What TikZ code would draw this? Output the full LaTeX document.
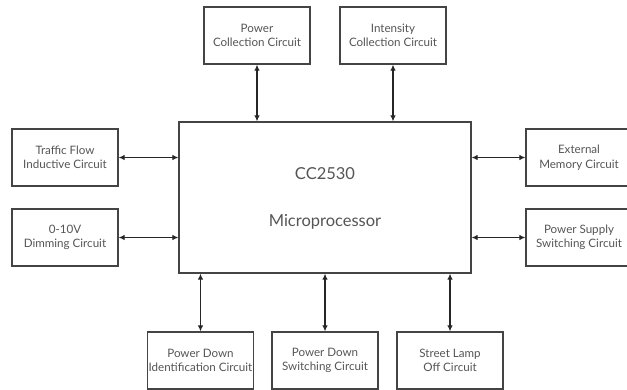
\documentclass[tikz,border=0pt]{standalone}
\usepackage{fontspec}
\setmainfont{Lato}
\usetikzlibrary{arrows.meta}
\definecolor{boxstroke}{HTML}{444444}
\definecolor{txtgray}{HTML}{555555}

\begin{document}
\begin{tikzpicture}[
    x=1pt, y=-1pt,
    every node/.style={font=\fontsize{11.6}{14.5}\selectfont, text=txtgray},
    blk/.style={draw=boxstroke, line width=1.2pt, fill=white, minimum width=106pt, minimum height=57pt, inner sep=0pt, align=center},
    mcu/.style={draw=boxstroke, line width=1.2pt, minimum width=292pt, minimum height=151pt, inner sep=0pt, align=center},
    arr/.style={{Latex[length=6pt,width=5.5pt]}-{Latex[length=6pt,width=5.5pt]}, line width=1.1pt, black!85}
]
\useasboundingbox (0,0) rectangle (627,389);

\node[mcu] (cpu) at (325,197.5) {};
\node[font=\fontsize{16.5}{19}\selectfont] (chip) at (325,174) {CC2530};
\node[font=\fontsize{16.5}{19}\selectfont] (proc) at (325,222) {Microprocessor};

% top row
\node[blk] (pwr) at (257,35.5) {Power\\Collection Circuit};
\node[blk] (ints) at (393,35.5) {Intensity\\Collection Circuit};

% left side
\node[blk] (traf) at (65,157.5) {Traffic Flow\\Inductive Circuit};
\node[blk] (dim) at (65,237.5) {0-10V\\Dimming Circuit};

% right side
\node[blk] (ext) at (579,157.5) {External\\Memory Circuit};
\node[blk] (psw) at (579,237.5) {Power Supply\\Switching Circuit};

% bottom row
\node[blk] (pdi) at (200.5,360.5) {Power Down\\Identification Circuit};
\node[blk] (pds) at (325,360.5) {Power Down\\Switching Circuit};
\node[blk] (lamp) at (450,360.5) {Street Lamp\\Off Circuit};

\draw[arr] (pwr.south) -- (pwr.south |- cpu.north);
\draw[arr] (ints.south) -- (ints.south |- cpu.north);
\draw[arr] (traf.east) -- (traf.east -| cpu.west);
\draw[arr] (dim.east) -- (dim.east -| cpu.west);
\draw[arr] (ext.west) -- (ext.west -| cpu.east);
\draw[arr] (psw.west) -- (psw.west -| cpu.east);
\draw[arr] (pdi.north) -- (pdi.north |- cpu.south);
\draw[arr] (pds.north) -- (pds.north |- cpu.south);
\draw[arr] (lamp.north) -- (lamp.north |- cpu.south);

\end{tikzpicture}
\end{document}
